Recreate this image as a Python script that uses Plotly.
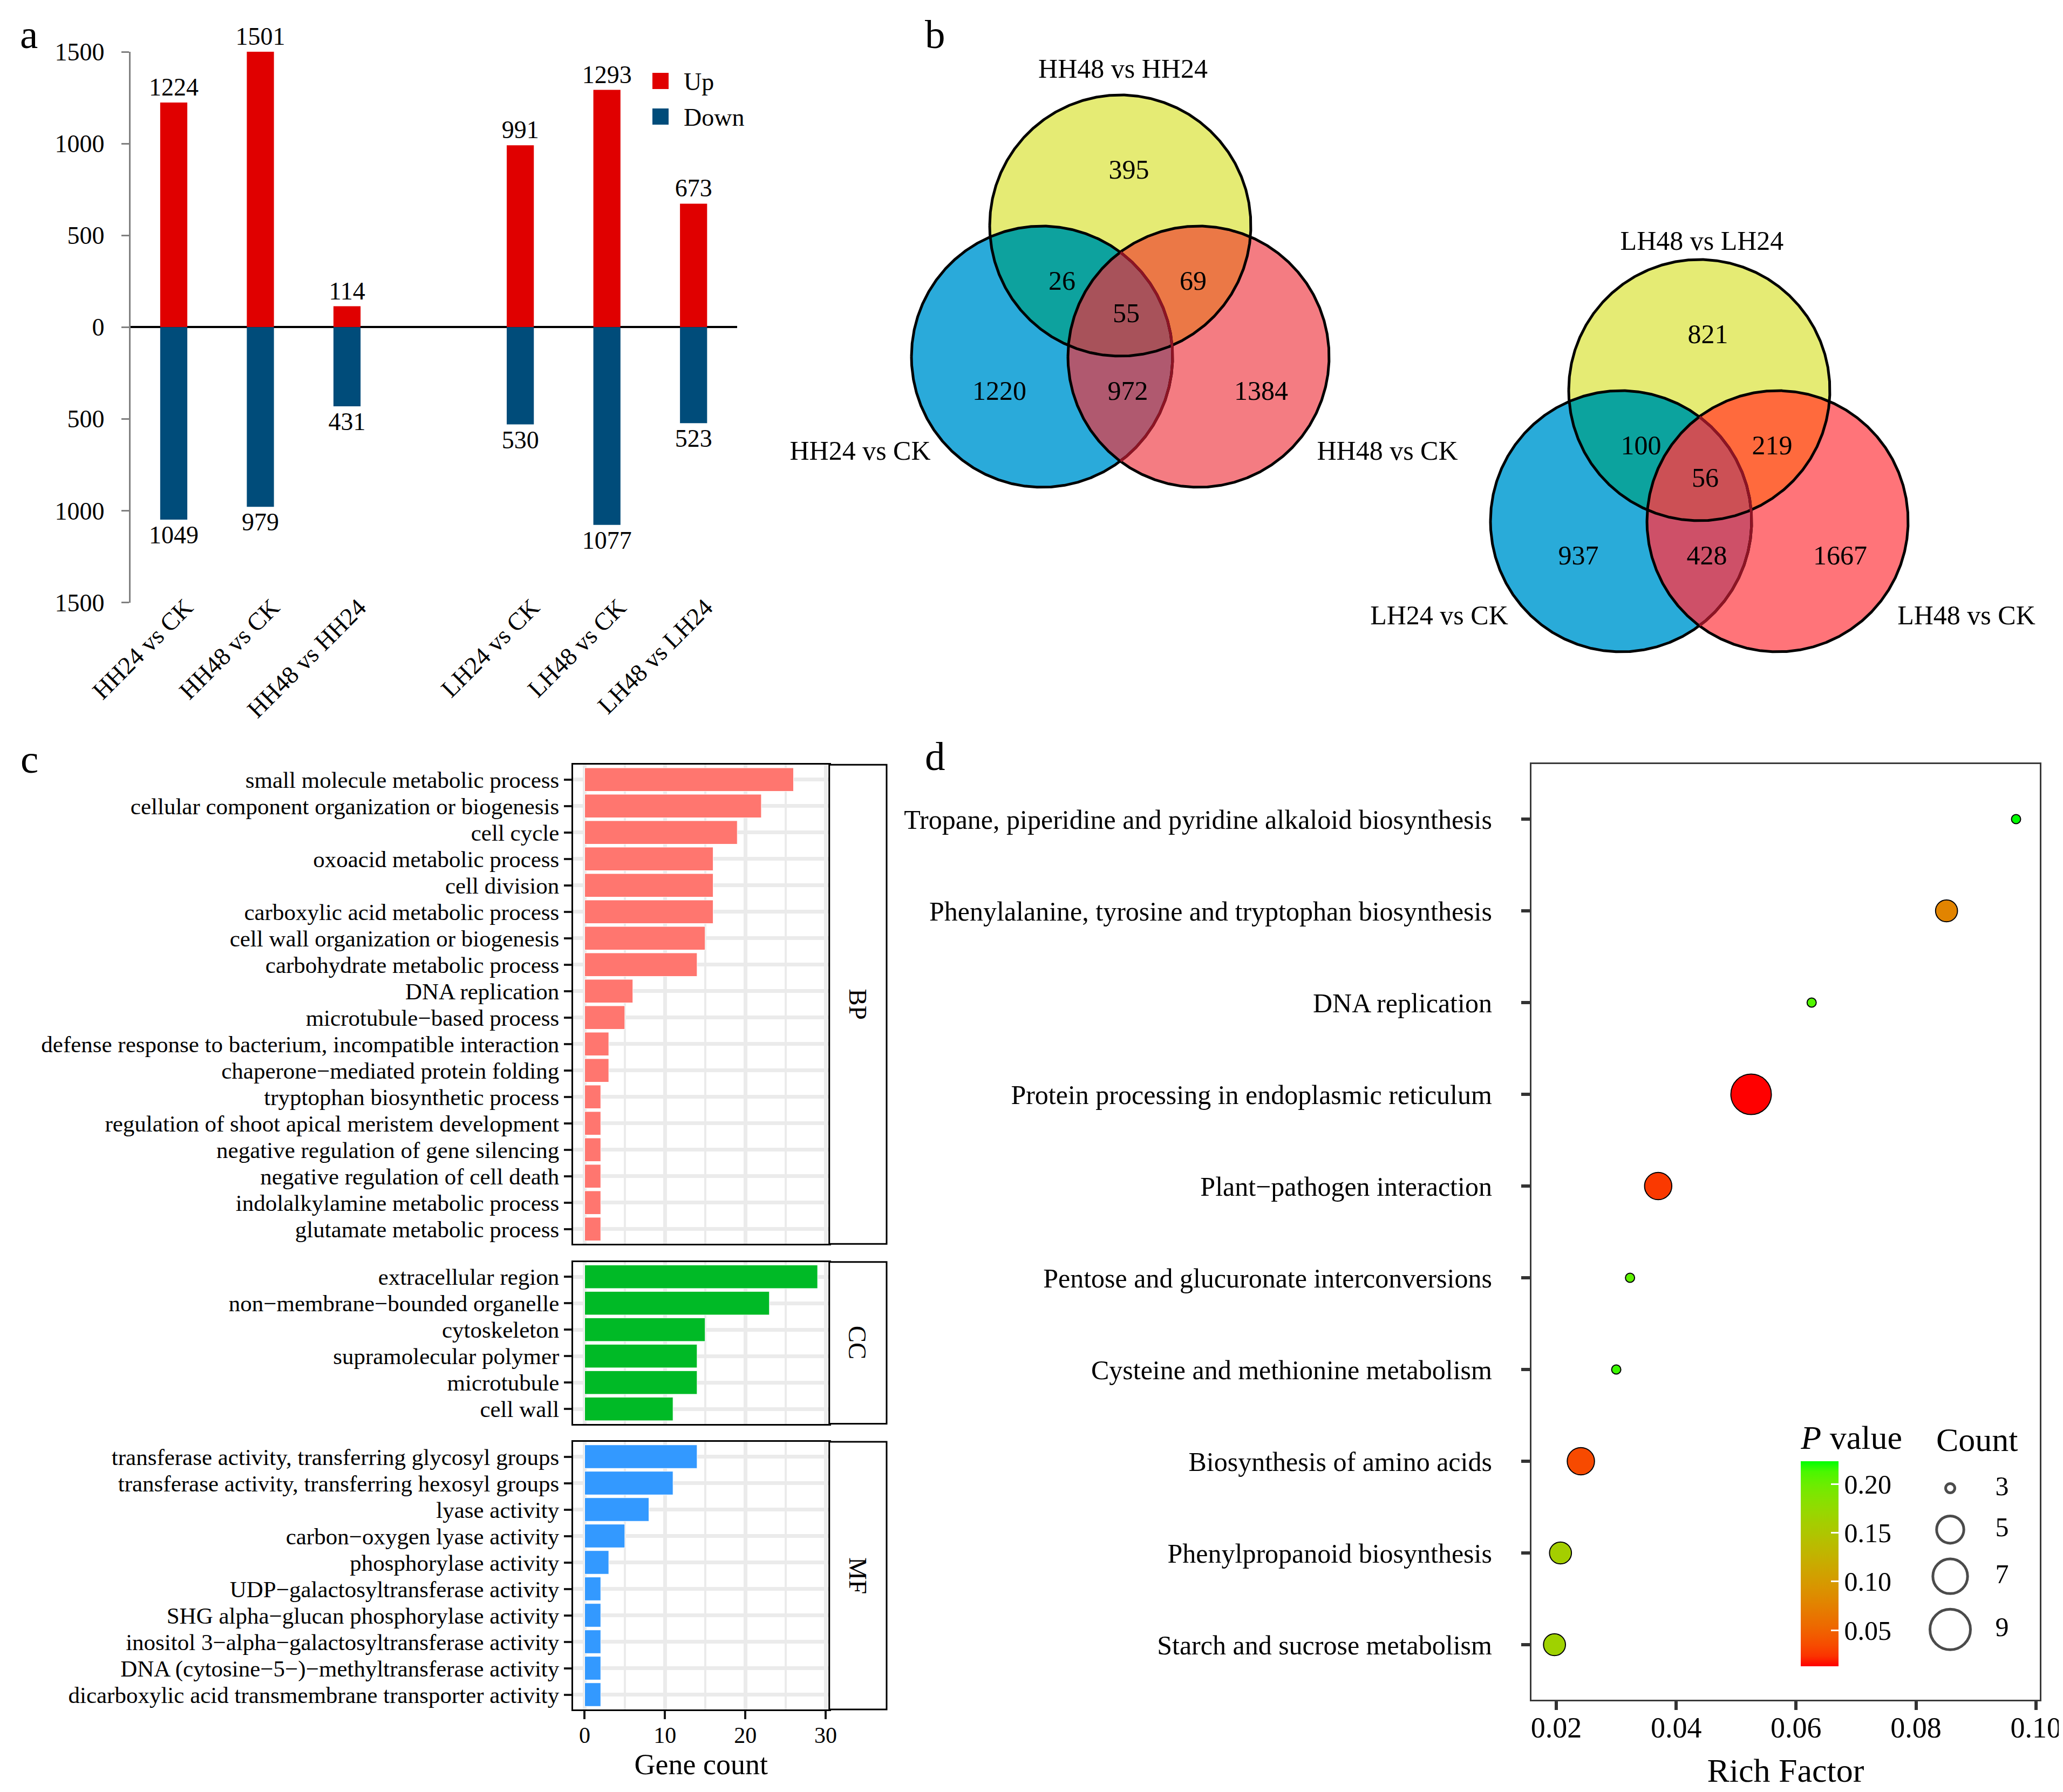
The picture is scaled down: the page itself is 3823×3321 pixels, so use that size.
import numpy as np
import plotly.graph_objects as go

W, H = 3823, 3321
FONT = "Liberation Serif"

# ---------------- data: panel a (DEG counts) ----------------
deg_groups = ["HH24 vs CK", "HH48 vs CK", "HH48 vs HH24", "LH24 vs CK", "LH48 vs CK", "LH48 vs LH24"]
deg_up = [1224, 1501, 114, 991, 1293, 673]
deg_down = [1049, 979, 431, 530, 1077, 523]
deg_ticks = [-1500, -1000, -500, 0, 500, 1000, 1500]

# ---------------- data: panel b (Venn) ----------------
venn_hh_sets = ["HH48 vs HH24", "HH24 vs CK", "HH48 vs CK"]
venn_hh_counts = [395, 26, 69, 55, 1220, 972, 1384]
venn_lh_sets = ["LH48 vs LH24", "LH24 vs CK", "LH48 vs CK"]
venn_lh_counts = [821, 100, 219, 56, 937, 428, 1667]
# region order: top only, top&left, top&right, all three, left only, left&right, right only

# ---------------- data: panel c (GO) ----------------
bp_terms = ["small molecule metabolic process", "cellular component organization or biogenesis",
            "cell cycle", "oxoacid metabolic process", "cell division", "carboxylic acid metabolic process",
            "cell wall organization or biogenesis", "carbohydrate metabolic process", "DNA replication",
            "microtubule\u2212based process", "defense response to bacterium, incompatible interaction",
            "chaperone\u2212mediated protein folding", "tryptophan biosynthetic process",
            "regulation of shoot apical meristem development", "negative regulation of gene silencing",
            "negative regulation of cell death", "indolalkylamine metabolic process",
            "glutamate metabolic process"]
bp_counts = [26, 22, 19, 16, 16, 16, 15, 14, 6, 5, 3, 3, 2, 2, 2, 2, 2, 2]
cc_terms = ["extracellular region", "non\u2212membrane\u2212bounded organelle", "cytoskeleton",
            "supramolecular polymer", "microtubule", "cell wall"]
cc_counts = [29, 23, 15, 14, 14, 11]
mf_terms = ["transferase activity, transferring glycosyl groups",
            "transferase activity, transferring hexosyl groups", "lyase activity",
            "carbon\u2212oxygen lyase activity", "phosphorylase activity",
            "UDP\u2212galactosyltransferase activity", "SHG alpha\u2212glucan phosphorylase activity",
            "inositol 3\u2212alpha\u2212galactosyltransferase activity",
            "DNA (cytosine\u22125\u2212)\u2212methyltransferase activity",
            "dicarboxylic acid transmembrane transporter activity"]
mf_counts = [14, 11, 8, 5, 3, 2, 2, 2, 2, 2]
go_ticks = [0, 10, 20, 30]

# ---------------- data: panel d (KEGG) ----------------
kegg_terms = ["Tropane, piperidine and pyridine alkaloid biosynthesis",
              "Phenylalanine, tyrosine and tryptophan biosynthesis", "DNA replication",
              "Protein processing in endoplasmic reticulum", "Plant\u2212pathogen interaction",
              "Pentose and glucuronate interconversions", "Cysteine and methionine metabolism",
              "Biosynthesis of amino acids", "Phenylpropanoid biosynthesis", "Starch and sucrose metabolism"]
kegg_rich = [0.0967, 0.0851, 0.0626, 0.0525, 0.0370, 0.0323, 0.0300, 0.0241, 0.0207, 0.0197]
kegg_count = [3, 4, 3, 9, 5, 3, 3, 5, 4, 4]
kegg_p = [0.2235, 0.078, 0.210, 0.0127, 0.026, 0.205, 0.215, 0.034, 0.160, 0.165]
rich_ticks = [0.02, 0.04, 0.06, 0.08, 0.10]
p_ticks = [0.05, 0.10, 0.15, 0.20]
count_breaks = [3, 5, 7, 9]


# ---------------- helpers ----------------
def fx(px):
    return px / W


def fy(py):
    return 1 - py / H


_M = np.array([[0.4124564, 0.3575761, 0.1804375],
               [0.2126729, 0.7151522, 0.0721750],
               [0.0193339, 0.1191920, 0.9503041]])
_WP = np.array([0.95047, 1.0, 1.08883])


def srgb_to_lab(rgb):
    c = np.array(rgb, float) / 255.0
    c = np.where(c <= 0.04045, c / 12.92, ((c + 0.055) / 1.055) ** 2.4)
    xyz = (_M @ c) / _WP
    e, k = 216 / 24389, 24389 / 27
    f = np.where(xyz > e, np.cbrt(xyz), (k * xyz + 16) / 116)
    return np.array([116 * f[1] - 16, 500 * (f[0] - f[1]), 200 * (f[1] - f[2])])


def lab_to_srgb(lab):
    L, a, b = lab
    e, k = 216 / 24389, 24389 / 27
    fyy = (L + 16) / 116
    fxx = fyy + a / 500
    fzz = fyy - b / 200
    xr = fxx ** 3 if fxx ** 3 > e else (116 * fxx - 16) / k
    yr = fyy ** 3 if L > k * e else L / k
    zr = fzz ** 3 if fzz ** 3 > e else (116 * fzz - 16) / k
    c = np.linalg.inv(_M) @ (np.array([xr, yr, zr]) * _WP)
    c = np.clip(c, 0, 1)
    c = np.where(c <= 0.0031308, 12.92 * c, 1.055 * c ** (1 / 2.4) - 0.055)
    r, g, bb = (int(round(v * 255)) for v in np.clip(c, 0, 1))
    return f"rgb({r},{g},{bb})"


lab_lo, lab_hi = srgb_to_lab((255, 0, 0)), srgb_to_lab((0, 255, 0))
p_colorscale = [[t, lab_to_srgb(lab_lo + (lab_hi - lab_lo) * t)] for t in np.linspace(0, 1, 21)]

P_MIN, P_MAX = min(kegg_p), max(kegg_p)
C_MIN, C_MAX = min(kegg_count), max(kegg_count)


def count_size(c):
    # ggplot-like area scale: diameter range 17..75 px
    return 17 + 58 * np.sqrt((np.asarray(c, float) - C_MIN) / (C_MAX - C_MIN))


fig = go.Figure()

# ======================= panel a =======================
A_LEFT, A_RIGHT, A_TOP, A_BOTTOM = 233.7, 1357.5, 87.5, 1108.5
slot = [i + (1 if i >= 3 else 0) for i in range(len(deg_groups))]
RED, NAVY = "#E00000", "#004C7A"
fig.add_trace(go.Bar(x=slot, y=deg_up, width=0.313, marker=dict(color=RED, line=dict(width=0)),
                     text=deg_up, textposition="outside", constraintext="none", cliponaxis=False,
                     textfont=dict(family=FONT, size=46, color="black"), name="Up",
                     xaxis="x", yaxis="y", hoverinfo="skip"))
fig.add_trace(go.Bar(x=slot, y=[-v for v in deg_down], width=0.313, marker=dict(color=NAVY, line=dict(width=0)),
                     text=deg_down, textposition="outside", constraintext="none", cliponaxis=False,
                     textfont=dict(family=FONT, size=46, color="black"), name="Down",
                     xaxis="x", yaxis="y", hoverinfo="skip"))

# ======================= panel c =======================
C_LEFT, C_RIGHT = 1053.9, 1528.7
ROW = 49.0
PADR = 0.56
BP_TOP = 1409.3
GAP = 33.5
STRIP_R = 1635
go_panels = [("BP", bp_terms, bp_counts, "#FF766F"),
             ("CC", cc_terms, cc_counts, "#00BA26"),
             ("MF", mf_terms, mf_counts, "#3399FF")]
panel_tops = []
top = BP_TOP
for k, (lab, terms, counts, col) in enumerate(go_panels):
    n = len(terms)
    hpx = (n - 1 + 2 * PADR) * ROW
    panel_tops.append((top, top + hpx))
    top = top + hpx + GAP

for k, (lab, terms, counts, col) in enumerate(go_panels):
    ax = k + 2
    fig.add_trace(go.Bar(y=terms, x=counts, orientation="h", width=0.89,
                         marker=dict(color=col, line=dict(color="white", width=1)),
                         xaxis=f"x{ax}", yaxis=f"y{ax}", hoverinfo="skip", showlegend=False))

# ======================= panel d =======================
D_LEFT, D_RIGHT, D_TOP, D_BOTTOM = 2829.9, 3772.0, 1408.0, 3142.0
CB_TITLE_H = 82
CB_LEFT, CB_TOP, CB_LEN, CB_THICK = 3329.3, 2709.3, 370.7, 70
fig.add_trace(go.Scatter(
    x=kegg_rich, y=kegg_terms, mode="markers", xaxis="x5", yaxis="y5", hoverinfo="skip",
    marker=dict(size=count_size(kegg_count), sizemode="diameter", color=kegg_p,
                colorscale=p_colorscale, cmin=P_MIN, cmax=P_MAX, opacity=1,
                line=dict(color="black", width=2),
                colorbar=dict(
                    x=fx(CB_LEFT), xanchor="left", y=fy(CB_TOP - CB_TITLE_H), yanchor="top",
                    len=CB_LEN + CB_TITLE_H, lenmode="pixels", thickness=CB_THICK, thicknessmode="pixels",
                    xpad=0, ypad=0, outlinewidth=0,
                    tickvals=p_ticks, ticktext=[f"{v:.2f}" for v in p_ticks],
                    ticks="inside", ticklen=14, tickwidth=3, tickcolor="white",
                    tickfont=dict(family=FONT, size=50, color="black"),
                    title=dict(text="<i>P</i> value", side="top",
                               font=dict(family=FONT, size=62, color="black")))),
    showlegend=False))

# ======================= overlay (pixel) axis: venn + legends =======================
VENN_R = 242
VENN_DX, VENN_DY = 145, 243
venn_origins = [(2068, 410), (3141, 715)]
venn_title_dy = [-287, -273]
REGION_OFFSETS = [(16, -100), (-108, 106), (135, 106), (11, 166), (-224, 310), (14, 310), (261, 310)]
venn_palettes = [
    dict(top="#E5EB74", left="#2AAADA", right="#F47C82", tl="#0DA29E", tr="#EB7846", lr="#B0596F", all="#A8525A"),
    dict(top="#E5EB74", left="#29ABD9", right="#FF7479", tl="#0CA39E", tr="#FF6A3D", lr="#CE5068", all="#CC5055"),
]
venn_data = [(venn_hh_sets, venn_hh_counts), (venn_lh_sets, venn_lh_counts)]


def circle_pts(cx, cy, r, n=1441):
    t = np.linspace(-np.pi, np.pi, n)
    return cx + r * np.cos(t), cy + r * np.sin(t)


def region_poly(circles, r):
    xs, ys = [], []
    for i, (cx, cy) in enumerate(circles):
        px, py = circle_pts(cx, cy, r)
        mask = np.ones(px.shape, bool)
        for j, (ox, oy) in enumerate(circles):
            if j != i:
                mask &= (px - ox) ** 2 + (py - oy) ** 2 <= r * r * (1 + 1e-9)
        xs.append(px[mask])
        ys.append(py[mask])
    xs, ys = np.concatenate(xs), np.concatenate(ys)
    mx, my = xs.mean(), ys.mean()
    o = np.argsort(np.arctan2(ys - my, xs - mx))
    xs, ys = xs[o], ys[o]
    return np.append(xs, xs[0]), np.append(ys, ys[0])


def add_fill(xs, ys, color):
    fig.add_trace(go.Scatter(x=xs, y=ys, mode="lines", fill="toself", fillcolor=color,
                             line=dict(width=0, color=color), xaxis="x6", yaxis="y6",
                             hoverinfo="skip", showlegend=False))


for (ox, oy), pal, (sets, counts), tdy in zip(venn_origins, venn_palettes, venn_data, venn_title_dy):
    ctop = (ox, oy)
    cleft = (ox - VENN_DX, oy + VENN_DY)
    cright = (ox + VENN_DX, oy + VENN_DY)
    for c, key in [(ctop, "top"), (cleft, "left"), (cright, "right")]:
        xs, ys = circle_pts(*c, VENN_R)
        add_fill(xs, ys, pal[key])
    for cs, key in [((ctop, cleft), "tl"), ((ctop, cright), "tr"), ((cleft, cright), "lr")]:
        add_fill(*region_poly(list(cs), VENN_R), pal[key])
    add_fill(*region_poly([ctop, cleft, cright], VENN_R), pal["all"])
    for c in (ctop, cleft, cright):
        xs, ys = circle_pts(*c, VENN_R)
        fig.add_trace(go.Scatter(x=xs, y=ys, mode="lines", line=dict(color="black", width=5),
                                 xaxis="x6", yaxis="y6", hoverinfo="skip", showlegend=False))
    # left circle arc lying inside right circle (seen through the translucent fill)
    xs, ys = circle_pts(*cleft, VENN_R)
    m = (xs - cright[0]) ** 2 + (ys - cright[1]) ** 2 <= VENN_R ** 2
    fig.add_trace(go.Scatter(x=xs[m], y=ys[m], mode="lines", line=dict(color="#8E1424", width=5),
                             xaxis="x6", yaxis="y6", hoverinfo="skip", showlegend=False))
    # region counts
    fig.add_trace(go.Scatter(x=[ox + d[0] for d in REGION_OFFSETS], y=[oy + d[1] for d in REGION_OFFSETS],
                             mode="text", text=[str(v) for v in counts],
                             textfont=dict(family=FONT, size=50, color="black"),
                             xaxis="x6", yaxis="y6", hoverinfo="skip", showlegend=False))
    # set names
    fig.add_trace(go.Scatter(x=[ox + 5, ox - 482, ox + 495], y=[oy + tdy, oy + 421, oy + 421],
                             mode="text", text=sets, textfont=dict(family=FONT, size=50, color="black"),
                             xaxis="x6", yaxis="y6", hoverinfo="skip", showlegend=False))

# Count legend (size scale keys)
key_sizes = count_size(count_breaks)
key_h = np.maximum(key_sizes + 5 + 24, 74)
key_y = [2750.0]
for i in range(1, len(count_breaks)):
    key_y.append(key_y[-1] + (key_h[i - 1] + key_h[i]) / 2)
fig.add_trace(go.Scatter(x=[3606] * len(count_breaks), y=key_y, mode="markers",
                         marker=dict(size=key_sizes, color="rgba(0,0,0,0)", line=dict(color="black", width=5)),
                         xaxis="x6", yaxis="y6", hoverinfo="skip", showlegend=False))
fig.add_trace(go.Scatter(x=[3702] * len(count_breaks), y=key_y, mode="text",
                         text=[str(c) for c in count_breaks], textfont=dict(family=FONT, size=50, color="black"),
                         xaxis="x6", yaxis="y6", hoverinfo="skip", showlegend=False))

# ======================= shapes & annotations =======================
shapes = []
annotations = []

# panel a legend keys
for (lab, col, y0) in [("Up", RED, 127), ("Down", NAVY, 193)]:
    shapes.append(dict(type="rect", xref="x6", yref="y6", x0=1201, x1=1231, y0=y0, y1=y0 + 30,
                       fillcolor=col, line=dict(width=0)))
    annotations.append(dict(xref="x6", yref="y6", x=1257, y=y0 + 16, text=lab, showarrow=False,
                            xanchor="left", yanchor="middle", font=dict(family=FONT, size=46, color="black")))

# GO strips
for (lab, terms, counts, col), (t, b) in zip(go_panels, panel_tops):
    shapes.append(dict(type="rect", xref="x6", yref="y6", x0=C_RIGHT, x1=STRIP_R, y0=t, y1=b,
                       fillcolor="white", line=dict(color="black", width=3), layer="above"))
    annotations.append(dict(xref="x6", yref="y6", x=(C_RIGHT + STRIP_R) / 2, y=(t + b) / 2, text=lab,
                            textangle=90, showarrow=False, font=dict(family=FONT, size=47, color="black")))

# white colour-bar tick marks on the left edge (ggplot draws them on both sides)
for v in p_ticks:
    yy = CB_TOP + (P_MAX - v) / (P_MAX - P_MIN) * CB_LEN
    shapes.append(dict(type="line", xref="x6", yref="y6", x0=CB_LEFT, x1=CB_LEFT + 14, y0=yy, y1=yy,
                       line=dict(color="white", width=3), layer="above"))

# Count legend title
annotations.append(dict(xref="x6", yref="y6", x=3656, y=2660, text="Count", showarrow=False,
                        font=dict(family=FONT, size=62, color="black")))

# panel letters
for lab, x, y in [("a", 45, 55), ("b", 1725, 55), ("c", 46, 1398), ("d", 1725, 1393)]:
    annotations.append(dict(xref="x6", yref="y6", x=x, y=y, text=lab, showarrow=False,
                            font=dict(family=FONT, size=75, color="black")))

# ======================= layout =======================
layout = dict(
    template="none",
    width=W, height=H, autosize=False, margin=dict(l=0, r=0, t=0, b=0, pad=0, autoexpand=False),
    paper_bgcolor="white", plot_bgcolor="rgba(0,0,0,0)", showlegend=False,
    barmode="overlay", font=dict(family=FONT, size=45, color="black"),
    shapes=shapes, annotations=annotations,
    # panel a
    xaxis=dict(domain=[fx(A_LEFT), fx(A_RIGHT)], range=[-0.5, 6.5], anchor="y", automargin=False,
               tickmode="array", tickvals=slot, ticktext=deg_groups, tickangle=-45, showline=False, ticks="",
               ticklabelstandoff=-28, ticklabelshift=22,
               showgrid=False, zeroline=False, tickfont=dict(family=FONT, size=46, color="black")),
    yaxis=dict(domain=[fy(A_BOTTOM), fy(A_TOP)], range=[-1500, 1502], anchor="x", automargin=False,
               tickmode="array", tickvals=deg_ticks, ticktext=[str(abs(v)) for v in deg_ticks],
               showline=True, linecolor="#808080", linewidth=3, ticks="outside", ticklen=14,
               tickwidth=3, tickcolor="#808080", showgrid=False, zeroline=True, ticklabelstandoff=22,
               zerolinecolor="black", zerolinewidth=4, tickfont=dict(family=FONT, size=46, color="black")),
    # panel d
    xaxis5=dict(domain=[fx(D_LEFT), fx(D_RIGHT)], range=[0.01585, 0.10066], anchor="y5", automargin=False,
                tickmode="array", tickvals=rich_ticks, ticktext=[f"{v:.2f}" for v in rich_ticks],
                showline=True, mirror=True, linecolor="#3A3A3A", linewidth=3,
                ticks="outside", ticklen=16, tickwidth=6, tickcolor="#333333", ticklabelstandoff=-14,
                showgrid=False, zeroline=False, tickfont=dict(family=FONT, size=54, color="black"),
                title=dict(text="Rich Factor", standoff=28, font=dict(family=FONT, size=62, color="black"))),
    yaxis5=dict(domain=[fy(D_BOTTOM), fy(D_TOP)], anchor="x5", type="category", automargin=False,
                categoryorder="array", categoryarray=kegg_terms, range=[len(kegg_terms) - 0.4, -0.6],
                tickmode="array", tickvals=kegg_terms, ticktext=kegg_terms,
                showline=True, mirror=True, linecolor="#3A3A3A", linewidth=3,
                ticks="outside", ticklen=16, tickwidth=6, tickcolor="#333333", ticklabelstandoff=44,
                showgrid=False, zeroline=False, tickfont=dict(family=FONT, size=50, color="black")),
    # overlay pixel axes
    xaxis6=dict(domain=[0, 1], range=[0, W], anchor="y6", visible=False, fixedrange=True, automargin=False),
    yaxis6=dict(domain=[0, 1], range=[H, 0], anchor="x6", visible=False, fixedrange=True, automargin=False),
)

for k, ((lab, terms, counts, col), (t, b)) in enumerate(zip(go_panels, panel_tops)):
    ax = k + 2
    last = (k == len(go_panels) - 1)
    layout[f"xaxis{ax}"] = dict(
        domain=[fx(C_LEFT), fx(C_RIGHT)], range=[-1.45, 30.45], anchor=f"y{ax}", automargin=False,
        tickmode="array", tickvals=go_ticks, showticklabels=last, ticks="outside" if last else "",
        ticklen=15, tickwidth=4, tickcolor="#1A1A1A", ticklabelstandoff=-6,
        showline=True, mirror=True, linecolor="black", linewidth=3,
        showgrid=True, gridcolor="#EBEBEB", gridwidth=7, zeroline=False,
        minor=dict(tickmode="linear", dtick=5, tick0=0, showgrid=True, gridcolor="#EBEBEB", gridwidth=3.5, ticks=""),
        tickfont=dict(family=FONT, size=42, color="black"),
        title=dict(text="Gene count" if last else "", standoff=12,
                   font=dict(family=FONT, size=54, color="black")))
    layout[f"yaxis{ax}"] = dict(
        domain=[fy(b), fy(t)], anchor=f"x{ax}", type="category", categoryorder="array", automargin=False,
        categoryarray=terms, range=[len(terms) - 1 + PADR, -PADR],
        tickmode="array", tickvals=terms, ticktext=terms,
        ticks="outside", ticklen=14, tickwidth=4, tickcolor="#1A1A1A",
        showline=True, mirror=True, linecolor="black", linewidth=3,
        showgrid=True, gridcolor="#EBEBEB", gridwidth=7, zeroline=False,
        tickfont=dict(family=FONT, size=43, color="black"))

fig.update_layout(**layout)
fig.write_html("out.html")
